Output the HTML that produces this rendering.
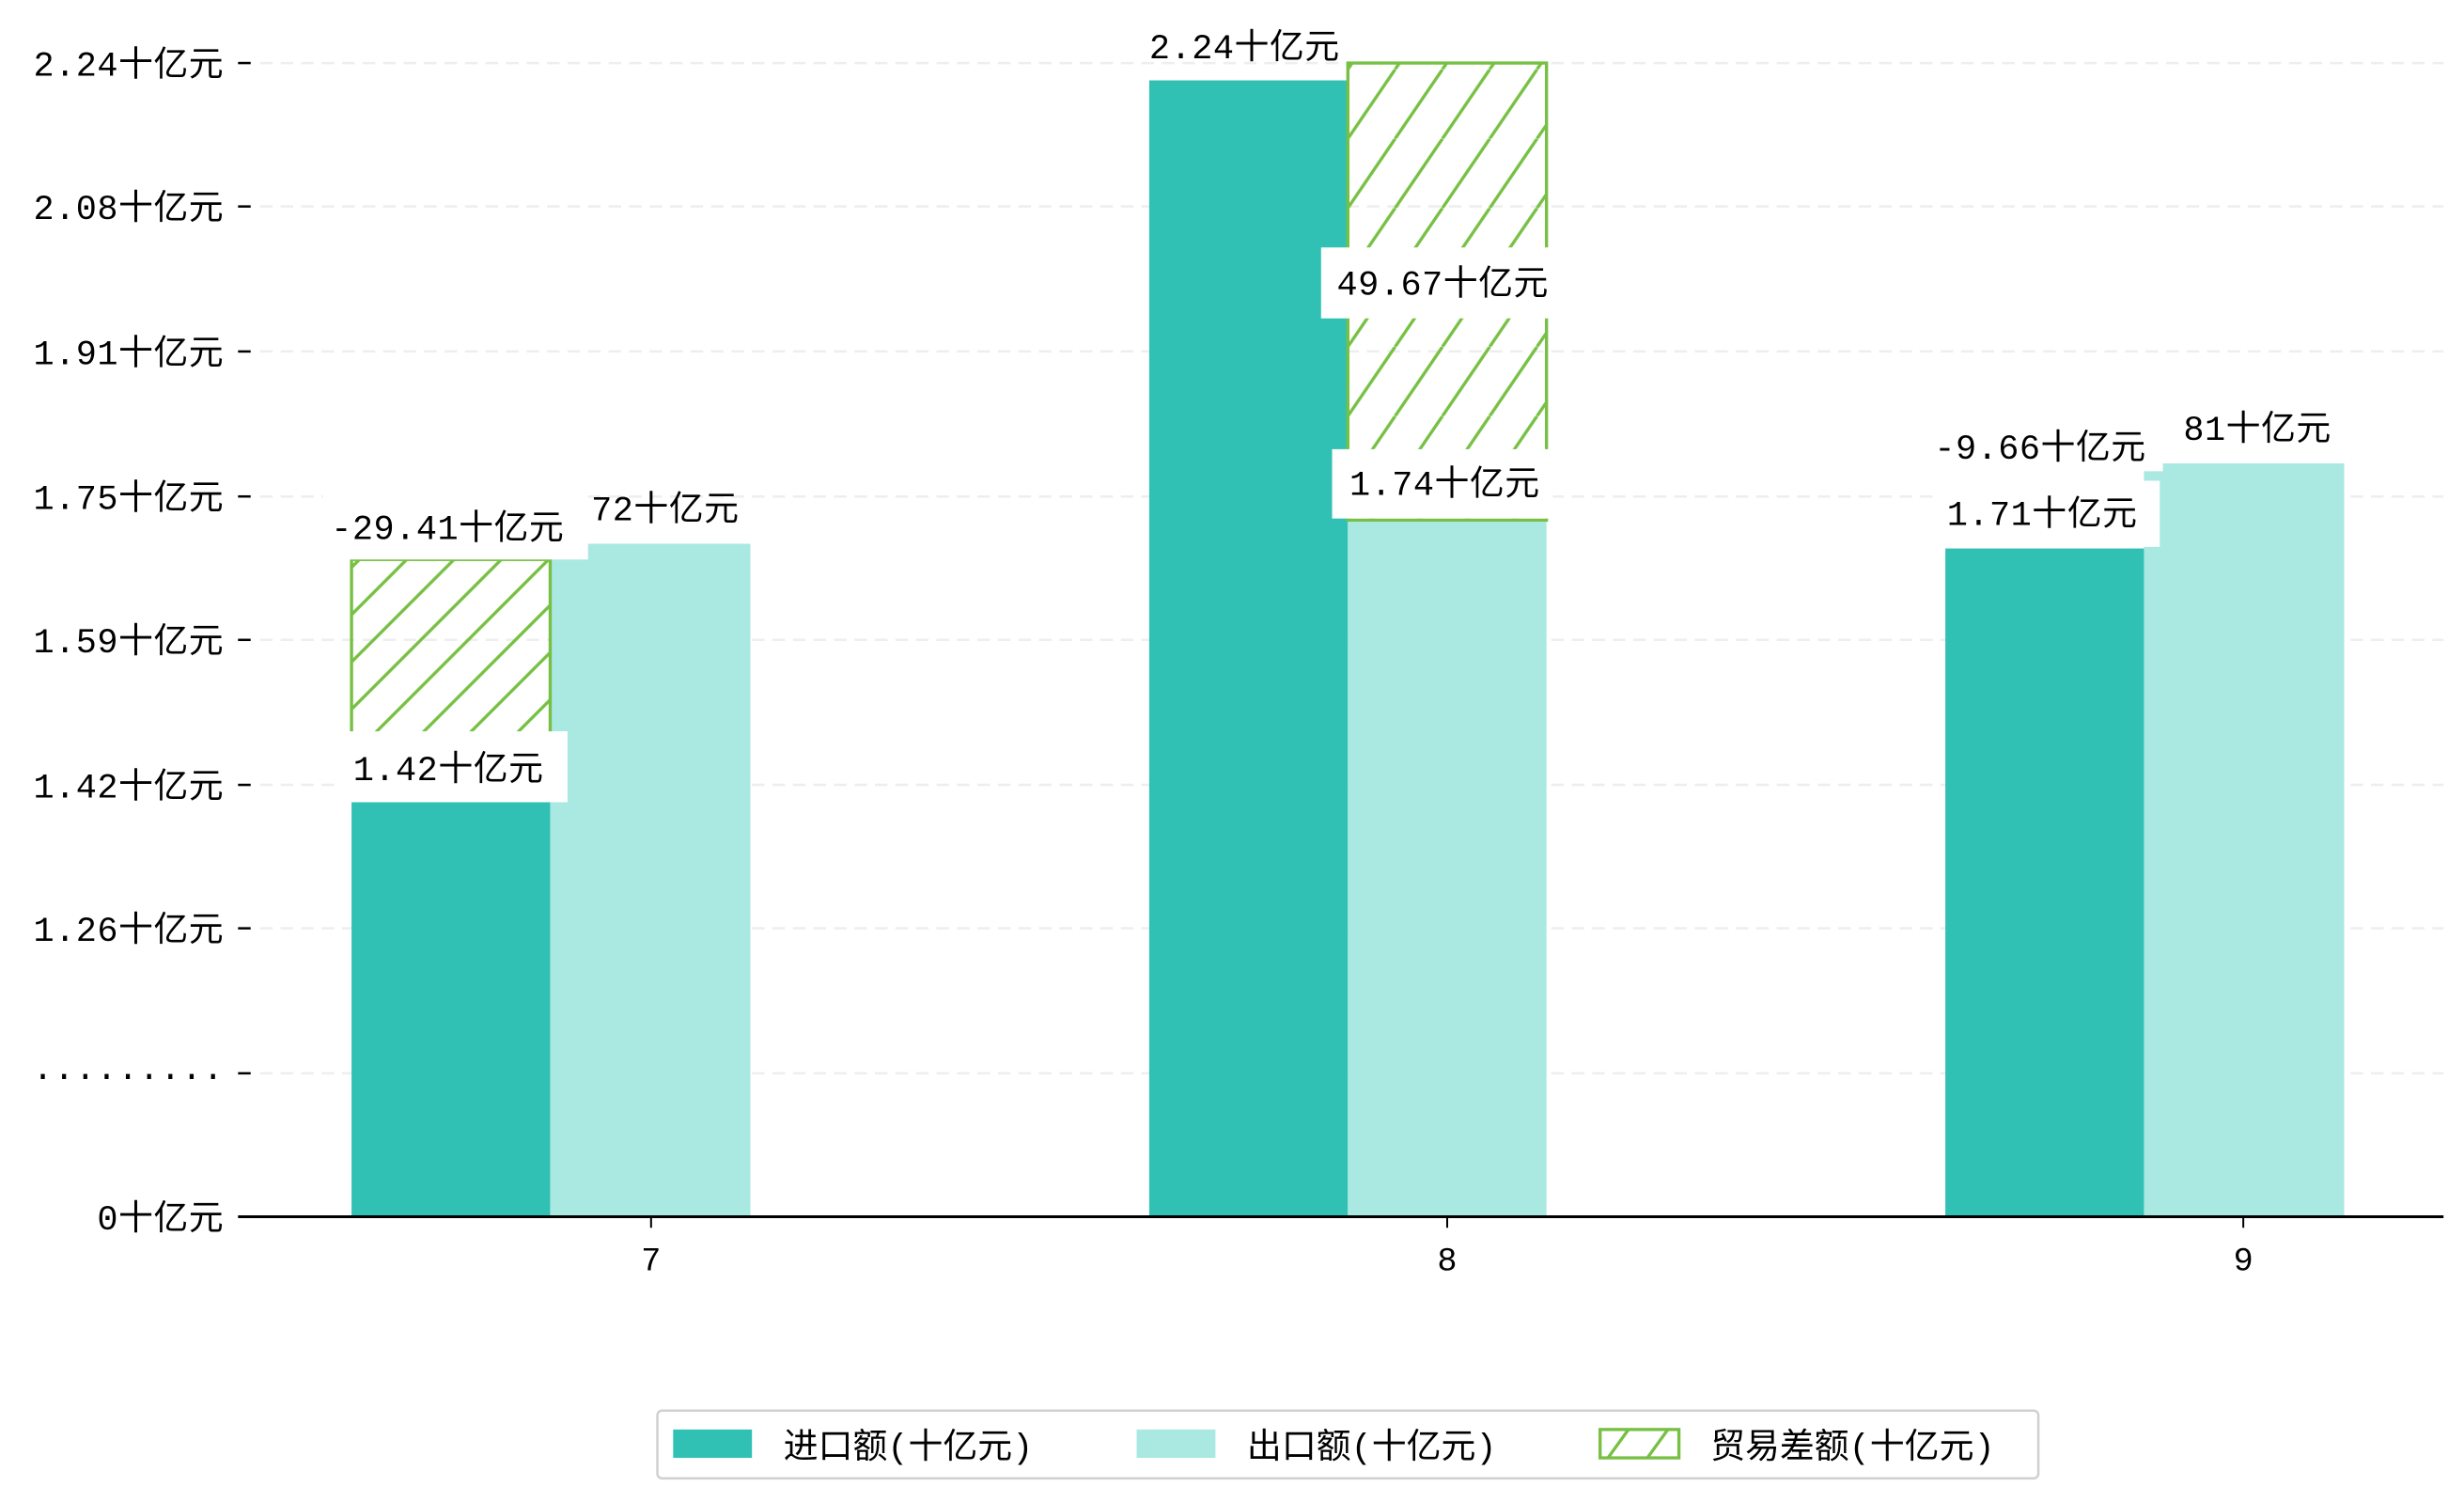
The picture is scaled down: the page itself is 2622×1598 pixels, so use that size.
<!DOCTYPE html>
<html><head><meta charset="utf-8"><style>
html,body{margin:0;padding:0;background:#fff;}
svg{display:block;}
text{font-family:"Liberation Mono","Noto Sans CJK SC",monospace;fill:#000;}
</style></head><body>
<svg width="2622" height="1598" viewBox="0 0 1563 953" preserveAspectRatio="none" xmlns="http://www.w3.org/2000/svg">
<defs>
<pattern id="h" patternUnits="userSpaceOnUse" width="30" height="30" patternTransform="translate(223,0)">
<path d="M-5,35 L35,-5 M-20,20 L20,-20 M10,50 L50,10" stroke="#76c043" stroke-width="2"/>
</pattern>
<pattern id="h2" patternUnits="userSpaceOnUse" width="30" height="44" patternTransform="translate(855,0)">
<path d="M0,44 L30,0 M-30,44 L0,0 M30,44 L60,0" stroke="#76c043" stroke-width="2"/>
</pattern>
</defs>
<g stroke="#eeeeee" stroke-width="1.5" stroke-dasharray="8,5">
<line x1="165" y1="40" x2="1550" y2="40"/><line x1="165" y1="131" x2="1550" y2="131"/>
<line x1="165" y1="223" x2="1550" y2="223"/><line x1="165" y1="315" x2="1550" y2="315"/>
<line x1="165" y1="406" x2="1550" y2="406"/><line x1="165" y1="498" x2="1550" y2="498"/>
<line x1="165" y1="589" x2="1550" y2="589"/><line x1="165" y1="681" x2="1550" y2="681"/>
</g>
<g font-size="22" text-anchor="end" letter-spacing="0.3">
<text x="142" y="48">2.24十亿元</text><text x="142" y="139">2.08十亿元</text>
<text x="142" y="231">1.91十亿元</text><text x="142" y="323">1.75十亿元</text>
<text x="142" y="414">1.59十亿元</text><text x="142" y="506">1.42十亿元</text>
<text x="142" y="597">1.26十亿元</text><text x="142" y="689">·········</text>
<text x="142" y="780">0十亿元</text>
</g>
<g stroke="#000" stroke-width="1.5">
<line x1="151" y1="40" x2="159" y2="40"/><line x1="151" y1="131" x2="159" y2="131"/>
<line x1="151" y1="223" x2="159" y2="223"/><line x1="151" y1="315" x2="159" y2="315"/>
<line x1="151" y1="406" x2="159" y2="406"/><line x1="151" y1="498" x2="159" y2="498"/>
<line x1="151" y1="589" x2="159" y2="589"/><line x1="151" y1="681" x2="159" y2="681"/>
</g>
<rect x="223" y="509" width="126" height="263" fill="#31c1b4"/>
<rect x="349" y="345" width="127" height="427" fill="#aae8e2"/>
<rect x="729" y="51" width="126" height="721" fill="#31c1b4"/>
<rect x="855" y="330" width="126" height="442" fill="#aae8e2"/>
<rect x="1234" y="348" width="126" height="424" fill="#31c1b4"/>
<rect x="1360" y="294" width="127" height="478" fill="#aae8e2"/>
<rect x="223" y="355" width="126" height="150" fill="url(#h)" stroke="#76c043" stroke-width="2"/>
<rect x="855" y="40" width="126" height="290" fill="url(#h2)" stroke="#76c043" stroke-width="2"/>
<g font-size="22" letter-spacing="0.3">
<rect x="205" y="313" width="168" height="42" fill="#fff"/><text x="210" y="342">-29.41十亿元</text>
<text x="375" y="330">72十亿元</text>
<rect x="213" y="464" width="147" height="45" fill="#fff"/><text x="224" y="495">1.42十亿元</text>
<text x="729" y="37">2.24十亿元</text>
<rect x="838" y="157" width="150" height="45" fill="#fff"/><text x="848" y="187">49.67十亿元</text>
<rect x="845" y="285" width="140" height="44" fill="#fff"/><text x="856" y="314">1.74十亿元</text>
<rect x="1222" y="265" width="150" height="34" fill="#fff"/><text x="1227" y="291">-9.66十亿元</text>
<rect x="1226" y="305" width="144" height="42" fill="#fff"/><text x="1235" y="333">1.71十亿元</text>
<rect x="1372" y="257" width="116" height="36" fill="#fff"/><text x="1385" y="279">81十亿元</text>
</g>
<line x1="151" y1="772" x2="1550" y2="772" stroke="#000" stroke-width="1.8"/>
<g stroke="#000" stroke-width="1.2"><line x1="413" y1="772" x2="413" y2="779"/><line x1="918" y1="772" x2="918" y2="779"/><line x1="1423" y1="772" x2="1423" y2="779"/></g>
<g font-size="21" text-anchor="middle"><text x="413" y="806">7</text><text x="918" y="806">8</text><text x="1423" y="806">9</text></g>
<rect x="417" y="895" width="876" height="43" rx="3" fill="#fff" stroke="#d0d0d0" stroke-width="1.5"/>
<rect x="427" y="907" width="50" height="18" fill="#31c1b4"/>
<rect x="721" y="907" width="50" height="18" fill="#aae8e2"/>
<rect x="1015" y="907" width="50" height="18" fill="#fff" stroke="#76c043" stroke-width="2"/>
<path d="M1020,925 L1033,907 M1045,925 L1058,907" stroke="#76c043" stroke-width="2"/>
<g font-size="22"><text x="497" y="925">进口额(十亿元)</text><text x="791" y="925">出口额(十亿元)</text><text x="1085" y="925">贸易差额(十亿元)</text></g>
</svg>
</body></html>
